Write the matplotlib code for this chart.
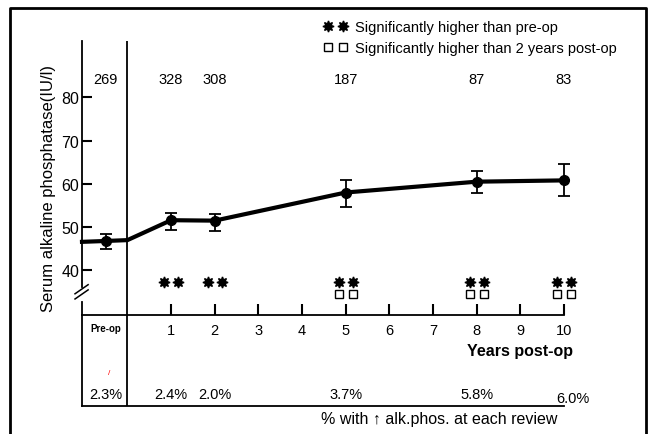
import matplotlib.pyplot as plt
from matplotlib.lines import Line2D

plt.rcParams['font.family'] = ['Liberation Sans', 'DejaVu Sans']

# review points (years post-op, pre-op plotted at -0.5)
x_pos = [-0.5, 1, 2, 5, 8, 10]
means = [46.8, 51.6, 51.5, 58.0, 60.5, 60.8]
err_hi = [48.4, 53.3, 53.0, 61.0, 63.0, 64.6]
err_lo = [45.0, 49.4, 49.0, 54.6, 57.8, 57.1]
n_patients = [269, 328, 308, 187, 87, 83]
pct_raised = [2.3, 2.4, 2.0, 3.7, 5.8, 6.0]

# trend line, running in from the axis through the operation date
curve_x = [-1.04, -0.5, 0, 1, 2, 5, 8, 10]
curve_y = [46.6, 46.8, 47.0, 51.6, 51.5, 58.0, 60.5, 60.8]

sig_preop = [1, 2, 5, 8, 10]
sig_2yr = [5, 8, 10]

year_ticks = [1, 2, 3, 4, 5, 6, 7, 8, 9, 10]
y_ticks = [40, 50, 60, 70, 80]

W, H = 656, 435


def fx(px):
    return px / W


def fy(py):
    return 1 - py / H


fig = plt.figure(figsize=(W / 100, H / 100), dpi=100)

ax = fig.add_axes([fx(82), fy(316), fx(564) - fx(82), fy(42) - fy(316)])
ax.set_xlim(-1.04, 10)
ax.set_ylim(29.7, 93.0)
for s in ['top', 'right']:
    ax.spines[s].set_visible(False)
ax.spines['left'].set_bounds(36.2, 93.0)
ax.spines['left'].set_linewidth(1.3)
ax.spines['bottom'].set_linewidth(1.3)

# lower stub of broken y axis and the break marks
ax.plot([-1.04, -1.04], [29.7, 32.6], color='black', lw=1.3, clip_on=False)
for dy in [0, 1.2]:
    ax.plot([-1.2, -0.9], [33.4 + dy, 35.5 + dy], color='black', lw=1.1, clip_on=False)

ax.set_yticks(y_ticks)
ax.tick_params(axis='y', direction='in', length=7, width=1.5, labelsize=11.5, pad=2)
ax.set_xticks(year_ticks)
ax.tick_params(axis='x', direction='in', length=8, width=1.5, labelsize=10.5, pad=6)
ax.axvline(0, color='black', lw=1.3)

ax.plot(curve_x, curve_y, color='black', lw=3, solid_joinstyle='round', zorder=3,
        clip_on=False)
ax.errorbar(x_pos, means,
            yerr=[[m - lo for m, lo in zip(means, err_lo)],
                  [hi - m for m, hi in zip(means, err_hi)]],
            fmt='o', color='black', ms=7, capsize=4.5, elinewidth=1.3,
            capthick=1.3, zorder=4, clip_on=False)

for x, n in zip(x_pos, n_patients):
    ax.text(x, 84.2, str(n), ha='center', va='center', fontsize=10.5)

for x in sig_preop:
    ax.plot([x - 0.16, x + 0.16], [37.3, 37.3], ls='none', marker=(8, 1, 0),
            ms=8, color='black', clip_on=False)
for x in sig_2yr:
    ax.plot([x - 0.16, x + 0.16], [34.5, 34.5], ls='none', marker='s', ms=6,
            mfc='white', mec='black', mew=1, clip_on=False)

ax.text(-0.5, 29.7 - 13 / 4.33, 'Pre-op', ha='center', va='center',
        fontsize=7, fontweight='bold')
ax.text(10.2, 29.7 - 36 / 4.33, 'Years post-op', ha='right', va='center',
        fontsize=11.5, fontweight='bold')

fig.text(fx(49), fy(189), 'Serum alkaline phosphatase(IU/l)', rotation=90,
         ha='center', va='center', fontsize=12,
         family=['Liberation Sans Narrow', 'Liberation Sans'])

# percentage row below the time axis
pct_ax = fig.add_axes([fx(82), fy(407), fx(564) - fx(82), fy(316) - fy(407)])
pct_ax.set_xlim(-1.04, 10)
pct_ax.set_ylim(0, 1)
pct_ax.set_xticks([])
pct_ax.set_yticks([])
pct_ax.patch.set_alpha(0)
for s in ['top', 'right']:
    pct_ax.spines[s].set_visible(False)
pct_ax.spines['left'].set_linewidth(1.3)
pct_ax.spines['bottom'].set_linewidth(1.3)
pct_ax.axvline(0, color='black', lw=1.3)
for x, p in zip(x_pos, pct_raised):
    if x == 10:
        pct_ax.text(x + 0.2, 0.01, f'{p:.1f}%', ha='center', va='bottom', fontsize=10.5)
    else:
        pct_ax.text(x, 0.05, f'{p:.1f}%', ha='center', va='bottom', fontsize=10.5)
pct_ax.text(-0.42, 0.37, '/', color='red', fontsize=6, ha='center', va='center')
pct_ax.text(7.13, -0.14, '% with \u2191 alk.phos. at each review', ha='center',
            va='center', fontsize=11.5, clip_on=False)

# legend in the upper right
fig.add_artist(Line2D([fx(328), fx(343)], [fy(27), fy(27)], ls='none',
                      marker=(8, 1, 0), ms=8, color='black'))
fig.add_artist(Line2D([fx(328), fx(343)], [fy(48), fy(48)], ls='none',
                      marker='s', ms=6, mfc='white', mec='black', mew=1))
fig.text(fx(355), fy(28), 'Significantly higher than pre-op', fontsize=10.5, va='center')
fig.text(fx(355), fy(49), 'Significantly higher than 2 years post-op', fontsize=10.5,
         va='center')

# outer frame
fig.add_artist(Line2D([fx(10), fx(10), fx(646), fx(646)],
                      [-0.05, fy(9), fy(9), -0.05], color='black', lw=2))

fig.savefig('out.png', dpi=100)
